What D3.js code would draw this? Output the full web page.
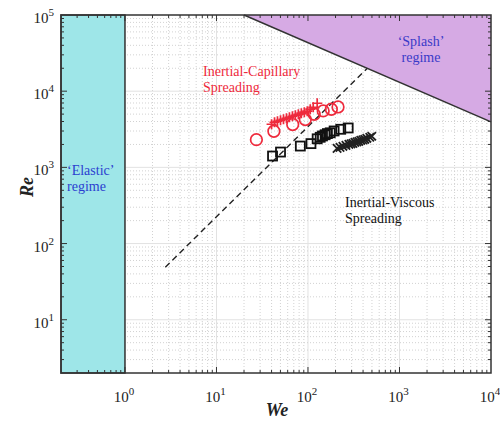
<!DOCTYPE html>
<html><head><meta charset="utf-8">
<script src="https://cdn.jsdelivr.net/npm/d3@7"></script>
<style>body{margin:0;background:#fff}svg{display:block}</style>
</head><body>
<script>
// ---- data ----
const xDomain = [0.2, 1e4];
const yDomain = [2, 1e5];
const xTickExps = [0, 1, 2, 3, 4];
const yTickExps = [1, 2, 3, 4, 5];
const elasticLimitWe = 1;
// splash boundary (We, Re)
const splashLine = [[20, 1e5], [1e4, 3950]];
// dashed guide (We, Re)
const dashedLine = [[2.76, 49], [443, 19900]];
// red circles
const redCircWe = [27.3, 42.4, 68.1, 93.5, 117, 146.6, 180, 213];
const redCircRe = [2313, 2979, 3648, 4246, 4977, 5508, 5793, 6210];
// red plus
const redPlusWe = [40.0, 43.1, 46.4, 50.1, 54.0, 58.2, 62.7, 67.6, 72.8, 78.5, 84.6, 91.2, 98.2, 105.9, 114.1, 126.1];
const redPlusRe = [3680, 3910, 4030, 4150, 4285, 4415, 4550, 4690, 4830, 4980, 5140, 5295, 5460, 5800, 6155, 6950];
// black squares
const blkSqWe = [41.0, 50.1, 82.5, 107.8, 126, 136, 144, 154, 163, 175, 193, 228, 275];
const blkSqRe = [1409, 1589, 1905, 2050, 2371, 2483, 2584, 2680, 2776, 2843, 3005, 3162, 3290];
// black crosses
const blkXWe = [208, 224, 241, 260, 280, 295, 310, 326, 343, 360, 378, 398, 418, 440, 474, 498];
const blkXRe = [1778, 1833, 1890, 1946, 2008, 2039, 2069, 2133, 2166, 2199, 2266, 2300, 2336, 2408, 2483, 2560];

const W = 500, H = 423;
const L = 61, R = 491, T = 15, B = 373;
const FONT = '"Liberation Serif"';
const svg = d3.select("body").append("svg").attr("width", W).attr("height", H);
const x = d3.scaleLog().domain(xDomain).range([L, R]);
const y = d3.scaleLog().domain(yDomain).range([B, T]);

function txt(parent, size) {
  return parent.append("text").style("font-family", FONT).style("font-size", size + "px");
}
function tsp(t, size) {
  return t.append("tspan").style("font-family", FONT).style("font-size", size + "px");
}

// grid
function minorVals(dom) {
  const out = [];
  for (let e = -1; e <= 5; e++) for (let m = 1; m <= 9; m++) {
    const v = m * Math.pow(10, e);
    if (v > dom[0] * 1.0001 && v < dom[1] * 0.9999) out.push({v, major: m === 1});
  }
  return out;
}
const gx = minorVals(xDomain), gy = minorVals(yDomain);
const grid = svg.append("g");
grid.selectAll(".gv").data(gx).join("line")
  .attr("x1", d => x(d.v)).attr("x2", d => x(d.v)).attr("y1", T).attr("y2", B)
  .attr("stroke", d => d.major ? "#e2e2e2" : "#d2d2d2")
  .attr("stroke-dasharray", d => d.major ? null : "1,2").attr("stroke-width", 1);
grid.selectAll(".gh").data(gy).join("line")
  .attr("y1", d => y(d.v)).attr("y2", d => y(d.v)).attr("x1", L).attr("x2", R)
  .attr("stroke", d => d.major ? "#e2e2e2" : "#d2d2d2")
  .attr("stroke-dasharray", d => d.major ? null : "1,2").attr("stroke-width", 1);

// elastic region
svg.append("rect").attr("x", L).attr("y", T)
  .attr("width", x(elasticLimitWe) - L).attr("height", B - T)
  .attr("fill", "#9ee6e8").attr("stroke", "#333").attr("stroke-width", 1.5);

// splash region
const sp = [[x(splashLine[0][0]), y(splashLine[0][1])], [R, T], [x(splashLine[1][0]), y(splashLine[1][1])]];
svg.append("path").attr("d", d3.line()(sp) + "Z").attr("fill", "#d6aae4");
svg.append("line").attr("x1", sp[0][0]).attr("y1", sp[0][1]).attr("x2", sp[2][0]).attr("y2", sp[2][1])
  .attr("stroke", "#333").attr("stroke-width", 1.5);

// dashed
svg.append("line")
  .attr("x1", x(dashedLine[0][0])).attr("y1", y(dashedLine[0][1]))
  .attr("x2", x(dashedLine[1][0])).attr("y2", y(dashedLine[1][1]))
  .attr("stroke", "#222").attr("stroke-width", 1.4).attr("stroke-dasharray", "6,4");

// markers
const red = "#ee2a3c";
const mk = svg.append("g");
mk.selectAll(".c").data(redCircWe).join("circle")
  .attr("cx", (d) => x(d)).attr("cy", (d, i) => y(redCircRe[i])).attr("r", 5.8)
  .attr("fill", "none").attr("stroke", red).attr("stroke-width", 1.7);
mk.selectAll(".p").data(redPlusWe).join("path")
  .attr("d", (d, i) => { const cx = x(d), cy = y(redPlusRe[i]), s = 5;
    return `M${cx-s},${cy}H${cx+s}M${cx},${cy-s}V${cy+s}`; })
  .attr("stroke", red).attr("stroke-width", 1.7).attr("fill", "none");
mk.selectAll(".s").data(blkSqWe).join("rect")
  .attr("x", d => x(d) - 4.5).attr("y", (d, i) => y(blkSqRe[i]) - 4.5)
  .attr("width", 9).attr("height", 9)
  .attr("fill", "none").attr("stroke", "#111").attr("stroke-width", 1.8);
mk.selectAll(".x").data(blkXWe).join("path")
  .attr("d", (d, i) => { const cx = x(d), cy = y(blkXRe[i]), s = 4.2;
    return `M${cx-s},${cy-s}L${cx+s},${cy+s}M${cx-s},${cy+s}L${cx+s},${cy-s}`; })
  .attr("stroke", "#222").attr("stroke-width", 1.8).attr("fill", "none");

// frame & ticks
svg.append("rect").attr("x", L).attr("y", T).attr("width", R - L).attr("height", B - T)
  .attr("fill", "none").attr("stroke", "#333").attr("stroke-width", 1.5);
const tk = svg.append("g").attr("stroke", "#333").attr("stroke-width", 1);
gx.forEach(d => { const len = d.major ? 6 : 3, px = x(d.v);
  tk.append("line").attr("x1", px).attr("x2", px).attr("y1", B).attr("y2", B - len);
  tk.append("line").attr("x1", px).attr("x2", px).attr("y1", T).attr("y2", T + len); });
gy.forEach(d => { const len = d.major ? 6 : 3, py = y(d.v);
  tk.append("line").attr("y1", py).attr("y2", py).attr("x1", L).attr("x2", L + len);
  tk.append("line").attr("y1", py).attr("y2", py).attr("x1", R).attr("x2", R - len); });

// tick labels
function powLabel(xx, yy, e, anchor) {
  const t = txt(svg, 15).attr("x", xx).attr("y", yy).attr("text-anchor", anchor).attr("fill", "#222");
  tsp(t, 15).text("10");
  tsp(t, 11).attr("dy", -7).text(e);
}
xTickExps.forEach(e => powLabel(x(Math.pow(10, e)) - 1, 402, e, "middle"));
yTickExps.forEach(e => powLabel(54, y(Math.pow(10, e)) + 8, e, "end"));

// axis titles
txt(svg, 18).attr("x", 277).attr("y", 416).attr("text-anchor", "middle")
  .style("font-weight", "bold").style("font-style", "italic").attr("fill", "#222").text("We");
txt(svg, 18).attr("transform", "translate(33,187) rotate(-90)").attr("text-anchor", "middle")
  .style("font-weight", "bold").style("font-style", "italic").attr("fill", "#222").text("Re");

// region labels
function label(lines, xx, yy, color, anchor) {
  lines.forEach((s, i) => txt(svg, 14).attr("fill", color).attr("text-anchor", anchor || "start")
    .attr("x", xx).attr("y", yy + i * 16).text(s));
}
label(["\u2018Elastic\u2019", "regime"], 67, 175, "#2b3fd0");
label(["\u2018Splash\u2019", "regime"], 421, 46, "#3a3ac8", "middle");
label(["Inertial-Capillary", "Spreading"], 203, 76, "#ee2a3c");
label(["Inertial-Viscous", "Spreading"], 345, 207, "#111");
</script>
</body></html>
